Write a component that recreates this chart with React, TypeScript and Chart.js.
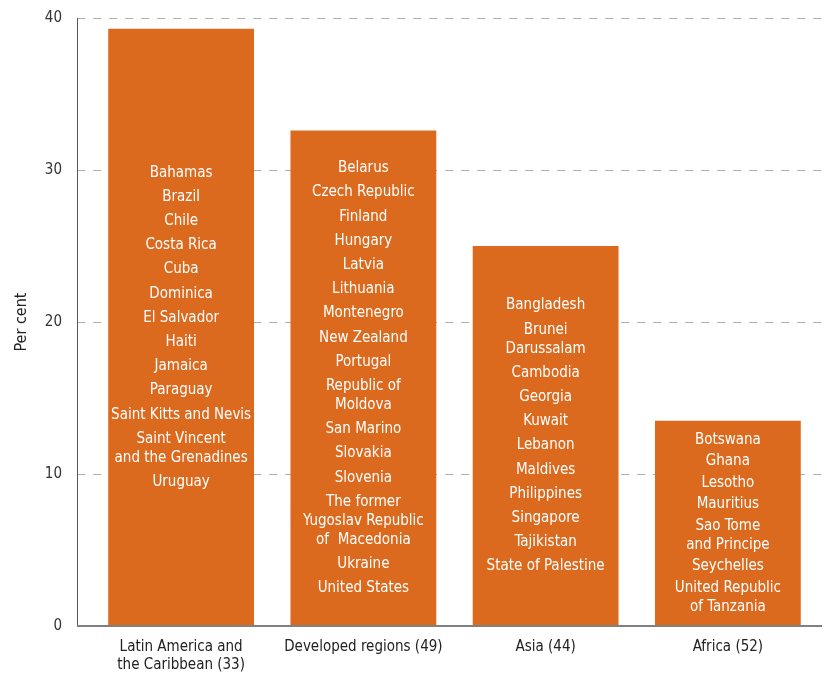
import React, { useEffect, useRef } from "react";
import { Chart, registerables } from "chart.js";

Chart.register(...registerables);

const categories: (string | string[])[] = [
  ["Latin America and", "the Caribbean (33)"],
  "Developed regions (49)",
  "Asia (44)",
  "Africa (52)",
];
const values = [39.3, 32.6, 25.0, 13.5];
const yTickValues = [0, 10, 20, 30, 40];

const latinAmerica = [
  "Bahamas", "Brazil", "Chile", "Costa Rica", "Cuba", "Dominica", "El Salvador",
  "Haiti", "Jamaica", "Paraguay", "Saint Kitts and Nevis",
  "Saint Vincent\nand the Grenadines", "Uruguay",
];
const developed = [
  "Belarus", "Czech Republic", "Finland", "Hungary", "Latvia", "Lithuania",
  "Montenegro", "New Zealand", "Portugal", "Republic of\nMoldova", "San Marino",
  "Slovakia", "Slovenia", "The former\nYugoslav Republic\nof  Macedonia",
  "Ukraine", "United States",
];
const asia = [
  "Bangladesh", "Brunei\nDarussalam", "Cambodia", "Georgia", "Kuwait", "Lebanon",
  "Maldives", "Philippines", "Singapore", "Tajikistan", "State of Palestine",
];
const africa = [
  "Botswana", "Ghana", "Lesotho", "Mauritius", "Sao Tome\nand Principe",
  "Seychelles", "United Republic\nof Tanzania",
];
const countryLists = [latinAmerica, developed, asia, africa];

const FONT = "'Liberation Sans Narrow', 'DejaVu Sans Condensed', 'Liberation Sans', sans-serif";
const BAR_COLOR = "#DC6A1E";

const gridPlugin = {
  id: "customGrid",
  beforeDatasetsDraw(chart: any) {
    const { ctx, chartArea } = chart;
    const y = chart.scales.y;
    const x0 = chartArea.left - 13;
    const x1 = chartArea.right + 3;
    ctx.save();
    ctx.strokeStyle = "#B0B0A4";
    ctx.lineWidth = 1;
    ctx.setLineDash([8, 8]);
    yTickValues.forEach((v) => {
      if (v === 0) return;
      const py = Math.round(y.getPixelForValue(v)) + 0.5;
      ctx.beginPath();
      ctx.moveTo(x0, py);
      ctx.lineTo(x1, py);
      ctx.stroke();
    });
    ctx.setLineDash([]);
    ctx.strokeStyle = "#555555";
    ctx.beginPath();
    ctx.moveTo(x0 + 0.5, y.getPixelForValue(40));
    ctx.lineTo(x0 + 0.5, y.getPixelForValue(0));
    ctx.stroke();
    ctx.restore();
  },
  afterDatasetsDraw(chart: any) {
    const { ctx, chartArea } = chart;
    const y = chart.scales.y;
    const x0 = chartArea.left - 13;
    const x1 = chartArea.right + 3;
    ctx.save();
    ctx.strokeStyle = "#808080";
    ctx.lineWidth = 2;
    const py = y.getPixelForValue(0);
    ctx.beginPath();
    ctx.moveTo(x0, py);
    ctx.lineTo(x1, py);
    ctx.stroke();

    // country labels inside bars
    const meta = chart.getDatasetMeta(0);
    ctx.fillStyle = "#FFFFFF";
    ctx.font = `15px ${FONT}`;
    ctx.textAlign = "center";
    ctx.textBaseline = "middle";
    const itemGap = 24.2;
    const lineGap = 19;
    meta.data.forEach((el: any, i: number) => {
      const list = countryLists[i];
      const top = el.y;
      const bottom = el.base;
      const n = list.length;
      const wraps = list.reduce((s, t) => s + (t.split("\n").length - 1), 0);
      const gap = Math.min(itemGap, (bottom - top - 38 - wraps * lineGap) / (n - 1));
      const total = (n - 1) * gap + wraps * lineGap;
      let cy = (top + bottom) / 2 - total / 2;
      list.forEach((item, k) => {
        const lines = item.split("\n");
        lines.forEach((ln, j) => {
          ctx.fillText(ln, el.x, cy);
          if (j < lines.length - 1) cy += lineGap;
        });
        if (k < n - 1) cy += gap;
      });
    });
    ctx.restore();
  },
};

export default function App() {
  const canvasRef = useRef<HTMLCanvasElement>(null);

  useEffect(() => {
    if (!canvasRef.current) return;
    const chart = new Chart(canvasRef.current, {
      type: "bar",
      data: {
        labels: categories,
        datasets: [
          {
            data: values,
            backgroundColor: BAR_COLOR,
            borderWidth: 0,
            barPercentage: 0.8,
            categoryPercentage: 1.0,
          },
        ],
      },
      options: {
        responsive: false,
        animation: false,
        layout: { padding: { top: 18, right: 6, left: 0, bottom: 0 } },
        plugins: {
          legend: { display: false },
          tooltip: { enabled: false },
        },
        scales: {
          x: {
            grid: { display: false, drawTicks: false },
            border: { display: false },
            ticks: {
              color: "#222222",
              font: { family: FONT, size: 15 },
              padding: 12,
              maxRotation: 0,
              autoSkip: false,
            },
            afterFit: (scale: any) => {
              scale.height = 49;
            },
          },
          y: {
            min: 0,
            max: 40,
            grid: { display: false, drawTicks: false },
            border: { display: false },
            afterBuildTicks: (scale: any) => {
              scale.ticks = yTickValues.map((v) => ({ value: v }));
            },
            ticks: {
              color: "#333333",
              font: { family: FONT, size: 15 },
              padding: 28,
            },
            title: {
              display: true,
              text: "Per cent",
              color: "#222222",
              font: { family: FONT, size: 16 },
              padding: { top: 12, bottom: 0 },
            },
            afterFit: (scale: any) => {
              scale.width = 90;
              scale.paddingTop = 0;
              scale.paddingBottom = 0;
            },
          },
        },
      },
      plugins: [gridPlugin],
    });
    return () => chart.destroy();
  }, []);

  return (
    <div style={{ position: "fixed", left: 0, top: 0, width: 825, height: 675, background: "#fff" }}>
      <canvas ref={canvasRef} width={825} height={675} />
    </div>
  );
}
